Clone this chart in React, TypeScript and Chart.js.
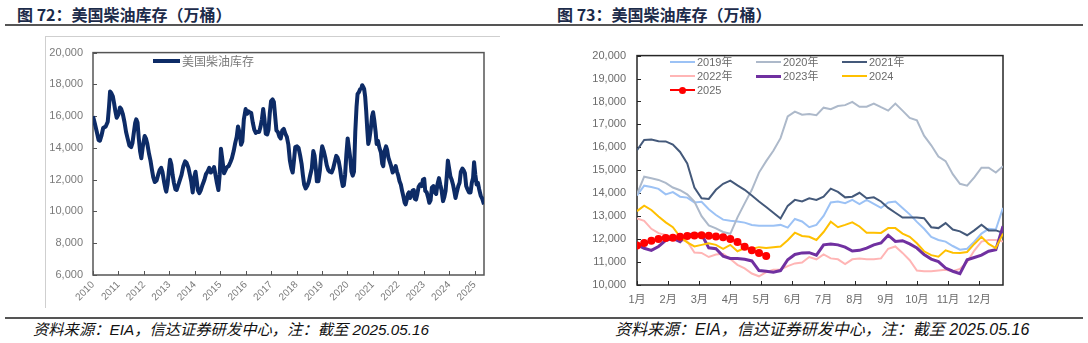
import React, { useEffect, useRef } from "react";
import { Chart, registerables } from "chart.js";

Chart.register(...registerables);

// ---------------- Left chart (figure 72): weekly US distillate stocks, 10k barrels ----------------
const histYears: number[] = [
  2010.00, 2010.07, 2010.15, 2010.22, 2010.27, 2010.33, 2010.40, 2010.50, 2010.58, 2010.63, 2010.67, 2010.72, 2010.78, 2010.83, 2010.88, 2010.93,
  2011.00, 2011.06, 2011.11, 2011.17, 2011.24, 2011.30, 2011.36, 2011.43, 2011.50, 2011.55, 2011.60, 2011.66, 2011.70, 2011.75, 2011.80, 2011.85, 2011.90, 2011.96,
  2012.03, 2012.08, 2012.13, 2012.20, 2012.26, 2012.32, 2012.37, 2012.43, 2012.50, 2012.56, 2012.62, 2012.68, 2012.73, 2012.79, 2012.85, 2012.88, 2012.93, 2012.98,
  2013.03, 2013.08, 2013.13, 2013.18, 2013.24, 2013.29, 2013.35, 2013.42, 2013.48, 2013.55, 2013.62, 2013.68, 2013.75, 2013.81, 2013.86, 2013.92, 2013.97,
  2014.03, 2014.08, 2014.12, 2014.18, 2014.24, 2014.31, 2014.38, 2014.44, 2014.50, 2014.57, 2014.63, 2014.69, 2014.76, 2014.81, 2014.87, 2014.93, 2014.98,
  2015.03, 2015.09, 2015.15, 2015.21, 2015.27, 2015.33, 2015.40, 2015.46, 2015.53, 2015.59, 2015.65, 2015.70, 2015.76, 2015.82, 2015.87, 2015.93,
  2016.00, 2016.06, 2016.11, 2016.16, 2016.22, 2016.28, 2016.34, 2016.40, 2016.46, 2016.53, 2016.58, 2016.64, 2016.69, 2016.74, 2016.79, 2016.85, 2016.90, 2016.95,
  2017.00, 2017.06, 2017.11, 2017.16, 2017.21, 2017.27, 2017.33, 2017.38, 2017.44, 2017.50, 2017.56, 2017.62, 2017.68, 2017.74, 2017.80, 2017.85, 2017.90, 2017.95,
  2018.02, 2018.08, 2018.14, 2018.20, 2018.25, 2018.30, 2018.36, 2018.42, 2018.48, 2018.54, 2018.60, 2018.66, 2018.71, 2018.75, 2018.80, 2018.86, 2018.92, 2018.97,
  2019.01, 2019.07, 2019.13, 2019.19, 2019.25, 2019.31, 2019.38, 2019.44, 2019.50, 2019.56, 2019.61, 2019.66, 2019.71, 2019.76, 2019.82, 2019.86, 2019.91, 2019.96,
  2020.01, 2020.06, 2020.11, 2020.16, 2020.21, 2020.26, 2020.31, 2020.36, 2020.40, 2020.45, 2020.50, 2020.55, 2020.58, 2020.62, 2020.66, 2020.70, 2020.74, 2020.78, 2020.82, 2020.86, 2020.92, 2020.97,
  2021.01, 2021.06, 2021.11, 2021.15, 2021.20, 2021.26, 2021.32, 2021.37, 2021.41, 2021.46, 2021.52, 2021.56, 2021.61, 2021.67, 2021.72, 2021.78, 2021.84, 2021.90, 2021.95,
  2022.00, 2022.05, 2022.10, 2022.15, 2022.20, 2022.25, 2022.29, 2022.33, 2022.38, 2022.42, 2022.46, 2022.51, 2022.56, 2022.61, 2022.65, 2022.70, 2022.75, 2022.80, 2022.86, 2022.92, 2022.97,
  2023.02, 2023.06, 2023.12, 2023.17, 2023.22, 2023.27, 2023.32, 2023.38, 2023.44, 2023.49, 2023.54, 2023.60, 2023.65, 2023.70, 2023.76, 2023.81, 2023.86, 2023.91, 2023.95,
  2024.00, 2024.05, 2024.10, 2024.15, 2024.20, 2024.25, 2024.30, 2024.36, 2024.41, 2024.46, 2024.52, 2024.57, 2024.62, 2024.67, 2024.72, 2024.78, 2024.84, 2024.89, 2024.94, 2024.98,
  2025.03, 2025.08, 2025.13, 2025.18, 2025.24, 2025.30, 2025.37,
];
const histStocks: number[] = [
  16000, 15550, 15000, 14500, 14450, 14750, 15250, 15350, 15650, 16600, 17550, 17450, 17250, 16800, 16300, 15900,
  16100, 16550, 16450, 16150, 15600, 15000, 14600, 14150, 14050, 14300, 14900, 15600, 15800, 15600, 14600, 13800, 13350, 14100,
  14750, 14600, 14300, 13650, 13200, 12600, 12150, 11850, 11950, 12300, 12600, 12750, 12500, 11900, 11400, 11250, 11700, 12500,
  13250, 12950, 12300, 11800, 11400, 11350, 11650, 12000, 12300, 12850, 13150, 13050, 12750, 12300, 11900, 11200, 12100,
  12500, 11900, 11350, 11150, 11350, 11700, 12000, 12350, 12500, 12750, 12450, 12550, 12800, 12350, 11800, 11350, 12300,
  13950, 13200, 12400, 12600, 12800, 12850, 13100, 13350, 13800, 14300, 14700, 15350, 14950, 14200, 14400, 15800,
  16450, 16150, 16300, 16250, 16200, 15600, 15150, 14950, 15000, 15000, 15300, 15800, 16450, 15800, 14900, 14850, 15150, 16200,
  16950, 17050, 16900, 16000, 15100, 15000, 14700, 14600, 15100, 15200, 14900, 14700, 14200, 13200, 12700, 12450, 13200, 14050,
  14100, 14000, 13550, 13000, 12300, 11700, 11450, 11600, 11850, 12300, 12700, 13800, 13500, 12900, 11900, 11900, 12600, 13600,
  14100, 13800, 13400, 12900, 12600, 12500, 12450, 12700, 13100, 13500, 13400, 13150, 12700, 12100, 11600, 11650, 12300, 13600,
  14600, 14000, 13400, 12500, 12250, 12500, 15000, 16600, 17400, 17500, 17700, 17750, 17950, 17850, 17700, 17200, 16300, 15200, 14250, 14500, 15200, 16000,
  16250, 15700, 15000, 14250, 14450, 14000, 13700, 13000, 12850, 13800, 14100, 13900, 13400, 13100, 12850, 12450, 12600, 12850, 12500,
  12250, 11900, 11700, 11300, 10950, 10550, 10450, 10700, 11100, 11200, 10850, 11000, 11300, 11350, 10800, 10750, 11100, 11550, 11700, 11600, 12000,
  12050, 11300, 11200, 10900, 10550, 10700, 11500, 11600, 11200, 11100, 11700, 12100, 11700, 11350, 10650, 10900, 11300, 12300, 13200,
  12700, 12200, 12000, 11700, 11300, 10850, 11200, 11600, 11800, 12500, 12700, 12600, 12400, 11600, 11400, 11200, 11200, 11800, 12100, 13100,
  12300, 11700, 11800, 11400, 11000, 10800, 10450,
];
const yearTicks: number[] = [2010, 2011, 2012, 2013, 2014, 2015, 2016, 2017, 2018, 2019, 2020, 2021, 2022, 2023, 2024, 2025];

// ---------------- Right chart (figure 73): seasonal weekly stocks ----------------
const monthLabels: string[] = ["1月", "2月", "3月", "4月", "5月", "6月", "7月", "8月", "9月", "10月", "11月", "12月"];
const seriesNames: string[] = ["2019年", "2020年", "2021年", "2022年", "2023年", "2024", "2025"];
const s2019: number[] = [13900, 14330, 14270, 14190, 13950, 14050, 13850, 13810, 13600, 13630, 13300, 13050, 12850, 12800, 12770, 12720, 12620, 12580, 12580, 12580, 12620, 12500, 12880, 12770, 12520, 12620, 13010, 13600, 13640, 13570, 13710, 13530, 13710, 13540, 13360, 13600, 13640, 13360, 13080, 12750, 12450, 12100, 11960, 11890, 11700, 11540, 11580, 11890, 12240, 12450, 12420, 13360];
const s2020: number[] = [13960, 14720, 14650, 14580, 14450, 14250, 14130, 13950, 13640, 13000, 12600, 12470, 12310, 12230, 12950, 13560, 14150, 14900, 15400, 15850, 16400, 17350, 17560, 17420, 17450, 17400, 17730, 17660, 17800, 17840, 17980, 17770, 17770, 17910, 17750, 17600, 17910, 17600, 17280, 17180, 16510, 16090, 15600, 15400, 14830, 14410, 14330, 14690, 15110, 15110, 14900, 15180];
const s2021: number[] = [15880, 16320, 16340, 16270, 16260, 16120, 15800, 15300, 14250, 13780, 13750, 14150, 14410, 14550, 14340, 14150, 13900, 13640, 13400, 13150, 12900, 13450, 13710, 13640, 13780, 13710, 13850, 14200, 14060, 13820, 13850, 14020, 13780, 13820, 13640, 13360, 13150, 12940, 12940, 12940, 12910, 12520, 12480, 12700, 12420, 12340, 12170, 12380, 12630, 12380, 12380, 12280];
const s2022: number[] = [12900, 12800, 12450, 12260, 12180, 12100, 11980, 11900, 11420, 11400, 11220, 11330, 11360, 11130, 10880, 10720, 10500, 10380, 10560, 10660, 10680, 10820, 10940, 10980, 11220, 11120, 11330, 11160, 11120, 10910, 11120, 11160, 11120, 11120, 11160, 11580, 11680, 11400, 11080, 10630, 10600, 10600, 10630, 10660, 10600, 10700, 11000, 11500, 11890, 11960, 11960, 11890];
const s2023: number[] = [11750, 11600, 11510, 11680, 11950, 12030, 11890, 12200, 12210, 12200, 11620, 11580, 11260, 11160, 11160, 11120, 11050, 10630, 10600, 10560, 10630, 11100, 11330, 11400, 11410, 11300, 11750, 11790, 11750, 11650, 11480, 11510, 11610, 11750, 11830, 12170, 11900, 11930, 11790, 11610, 11330, 11130, 11020, 10740, 10600, 10490, 11100, 11200, 11300, 11470, 11540, 12560];
const s2024: number[] = [13220, 13460, 13270, 12990, 12730, 12520, 12100, 11860, 11680, 11750, 11820, 11750, 11580, 11750, 11470, 11610, 11580, 11650, 11610, 11650, 11680, 11950, 12280, 12140, 12100, 11960, 12310, 12760, 12520, 12620, 12730, 12550, 12280, 12280, 12270, 12480, 12480, 12240, 12100, 11820, 11470, 11300, 11230, 11510, 11410, 11400, 11440, 11790, 12100, 11790, 11610, 12240];
const s2025: number[] = [11720, 11830, 11930, 12000, 12050, 12060, 12100, 12140, 12160, 12170, 12150, 12110, 12080, 12000, 11870, 11670, 11520, 11400, 11260];
const seriesColors: string[] = ["#9cc2f5", "#adb9ca", "#44597a", "#ffb5b5", "#7030a0", "#ffc000", "#ff0000"];
const seriesWidths: number[] = [2, 2, 2, 2, 3, 2, 2];

const TICK_FONT = "'Liberation Sans', Arial, 'Noto Sans CJK SC', sans-serif";
const CJK_FONT = "'Noto Sans CJK SC', 'Liberation Sans', sans-serif";

const framePlugin = {
  id: "frame",
  beforeDatasetsDraw(chart: any, _args: any, opts: any) {
    const { ctx, chartArea: a } = chart;
    ctx.save();
    ctx.strokeStyle = opts.color;
    ctx.lineWidth = opts.width;
    ctx.strokeRect(a.left, a.top, a.right - a.left, a.bottom - a.top);
    const xs = chart.scales.x;
    const ys = chart.scales.y;
    ctx.lineWidth = 1;
    ctx.beginPath();
    xs.ticks.forEach((t: any) => {
      const px = Math.round(xs.getPixelForValue(t.value)) + 0.5;
      ctx.moveTo(px, a.bottom);
      ctx.lineTo(px, a.bottom - opts.tick);
    });
    ys.ticks.forEach((t: any) => {
      const py = Math.round(ys.getPixelForValue(t.value)) + 0.5;
      ctx.moveTo(a.left, py);
      ctx.lineTo(a.left + opts.tick, py);
    });
    ctx.stroke();
    ctx.restore();
  },
};

const fmt = (v: number) => Number(v).toLocaleString("en-US");

export default function App() {
  const leftRef = useRef<HTMLCanvasElement>(null);
  const rightRef = useRef<HTMLCanvasElement>(null);

  useEffect(() => {
    const left = new Chart(leftRef.current as HTMLCanvasElement, {
      type: "line",
      data: {
        datasets: [
          {
            label: "美国柴油库存",
            data: histYears.map((x, i) => ({ x, y: histStocks[i] })),
            borderColor: "#0d2b66",
            borderWidth: 4,
            pointRadius: 0,
            tension: 0,
            borderJoinStyle: "round",
          },
        ],
      },
      options: {
        responsive: false,
        animation: false,
        layout: { padding: { left: 0, top: 7, right: 16, bottom: 0 } },
        plugins: {
          legend: { display: false },
          tooltip: { enabled: false },
          frame: { color: "#555555", width: 1.5, tick: 4 },
        } as any,
        scales: {
          x: {
            type: "linear",
            min: 2010,
            max: 2025.37,
            grid: { display: false, drawTicks: false },
            border: { display: false },
            afterBuildTicks: (s: any) => {
              s.ticks = yearTicks.map((v) => ({ value: v }));
            },
            afterFit: (s: any) => {
              s.height = 33;
            },
            ticks: {
              autoSkip: false,
              minRotation: 45,
              maxRotation: 45,
              padding: 4,
              color: "#7a7a7a",
              font: { family: TICK_FONT, size: 10 },
              callback: (v: any) => String(v),
            },
          },
          y: {
            min: 6000,
            max: 20000,
            grid: { display: false, drawTicks: false },
            border: { display: false },
            afterFit: (s: any) => {
              s.width = 48;
            },
            ticks: {
              stepSize: 2000,
              padding: 10,
              color: "#7a7a7a",
              font: { family: TICK_FONT, size: 11 },
              callback: (v: any) => fmt(v),
            },
          },
        },
      },
      plugins: [framePlugin],
    } as any);

    const seriesData = [s2019, s2020, s2021, s2022, s2023, s2024, s2025];
    const datasets = seriesData
      .map((arr, k) => ({
        label: seriesNames[k],
        data: arr.map((y, i) => ({ x: i, y })),
        borderColor: seriesColors[k],
        backgroundColor: seriesColors[k],
        borderWidth: seriesWidths[k],
        pointRadius: k === 6 ? 4 : 0,
        pointBorderWidth: 0,
        tension: 0,
      }))
      .reverse();

    const right = new Chart(rightRef.current as HTMLCanvasElement, {
      type: "line",
      data: { datasets },
      options: {
        responsive: false,
        animation: false,
        layout: { padding: { left: 0, top: 9, right: 17, bottom: 0 } },
        plugins: {
          legend: { display: false },
          tooltip: { enabled: false },
          frame: { color: "#262626", width: 1.5, tick: 4 },
        } as any,
        scales: {
          x: {
            type: "linear",
            min: 0,
            max: 51,
            grid: { display: false, drawTicks: false },
            border: { display: false },
            afterBuildTicks: (s: any) => {
              s.ticks = monthLabels.map((_, i) => ({ value: (i * 52) / 12 }));
            },
            afterFit: (s: any) => {
              s.height = 25;
            },
            ticks: {
              autoSkip: false,
              maxRotation: 0,
              minRotation: 0,
              padding: 8,
              color: "#6b6b6b",
              font: { family: TICK_FONT, size: 11 },
              callback: (_v: any, i: number) => monthLabels[i],
            },
          },
          y: {
            min: 10000,
            max: 20000,
            grid: { display: false, drawTicks: false },
            border: { display: false },
            afterFit: (s: any) => {
              s.width = 57;
            },
            ticks: {
              stepSize: 1000,
              padding: 11,
              color: "#6b6b6b",
              font: { family: TICK_FONT, size: 11 },
              callback: (v: any) => fmt(v),
            },
          },
        },
      },
      plugins: [framePlugin],
    } as any);

    return () => {
      left.destroy();
      right.destroy();
    };
  }, []);

  const titleStyle: React.CSSProperties = {
    position: "absolute",
    top: 4,
    fontFamily: CJK_FONT,
    fontWeight: 700,
    fontSize: 16,
    color: "#1c2b4a",
    whiteSpace: "nowrap",
    lineHeight: "20px",
  };
  const footStyle: React.CSSProperties = {
    position: "absolute",
    top: 321,
    fontFamily: "'Liberation Sans', Arial, 'Noto Sans CJK SC', sans-serif",
    fontStyle: "italic",
    color: "#111",
    whiteSpace: "nowrap",
    lineHeight: "18px",
  };
  const legendItems = [
    { k: 0, x: 670, y: 62 },
    { k: 3, x: 670, y: 76 },
    { k: 6, x: 670, y: 90 },
    { k: 1, x: 756, y: 62 },
    { k: 4, x: 756, y: 76 },
    { k: 2, x: 842, y: 62 },
    { k: 5, x: 842, y: 76 },
  ];

  return (
    <div
      style={{
        position: "absolute",
        left: 0,
        top: 0,
        width: 1088,
        height: 343,
        background: "#ffffff",
        overflow: "hidden",
      }}
    >
      <div style={{ ...titleStyle, left: 17 }}>图 72：美国柴油库存（万桶）</div>
      <div style={{ ...titleStyle, left: 557 }}>图 73：美国柴油库存（万桶）</div>
      <div style={{ position: "absolute", left: 5, top: 24, width: 1078, height: 2, background: "#555" }} />
      <div style={{ position: "absolute", left: 5, top: 317, width: 1078, height: 2, background: "#555" }} />

      <div
        style={{
          position: "absolute",
          left: 45,
          top: 36,
          width: 455,
          height: 272,
          borderTop: "1px solid #cfcfcf",
          borderLeft: "1px solid #cfcfcf",
          boxSizing: "border-box",
        }}
      />
      <canvas ref={leftRef} width={455} height={272} style={{ position: "absolute", left: 45, top: 36 }} />
      <div style={{ position: "absolute", left: 153, top: 59, width: 27, height: 4, background: "#0d2b66" }} />
      <div
        style={{
          position: "absolute",
          left: 182,
          top: 53,
          fontFamily: CJK_FONT,
          fontSize: 12,
          lineHeight: "16px",
          color: "#7a7a7a",
          whiteSpace: "nowrap",
        }}
      >
        美国柴油库存
      </div>

      <canvas ref={rightRef} width={440} height={272} style={{ position: "absolute", left: 580, top: 38 }} />
      {legendItems.map((it) => (
        <React.Fragment key={it.k}>
          <div
            style={{
              position: "absolute",
              left: it.x,
              top: it.y - seriesWidths[it.k] / 2,
              width: 25,
              height: seriesWidths[it.k],
              background: seriesColors[it.k],
            }}
          />
          {it.k === 6 && (
            <div
              style={{
                position: "absolute",
                left: it.x + 9,
                top: it.y - 3.5,
                width: 7,
                height: 7,
                borderRadius: 4,
                background: seriesColors[it.k],
              }}
            />
          )}
          <div
            style={{
              position: "absolute",
              left: it.x + 27,
              top: it.y - 8,
              fontFamily: TICK_FONT,
              fontSize: 11,
              lineHeight: "16px",
              color: "#6b6b6b",
              whiteSpace: "nowrap",
            }}
          >
            {seriesNames[it.k]}
          </div>
        </React.Fragment>
      ))}

      <div style={{ ...footStyle, left: 33, fontSize: 15.3 }}>资料来源：EIA，信达证券研发中心，注：截至 2025.05.16</div>
      <div style={{ ...footStyle, left: 615, fontSize: 16 }}>资料来源：EIA，信达证券研发中心，注：截至 2025.05.16</div>
    </div>
  );
}
